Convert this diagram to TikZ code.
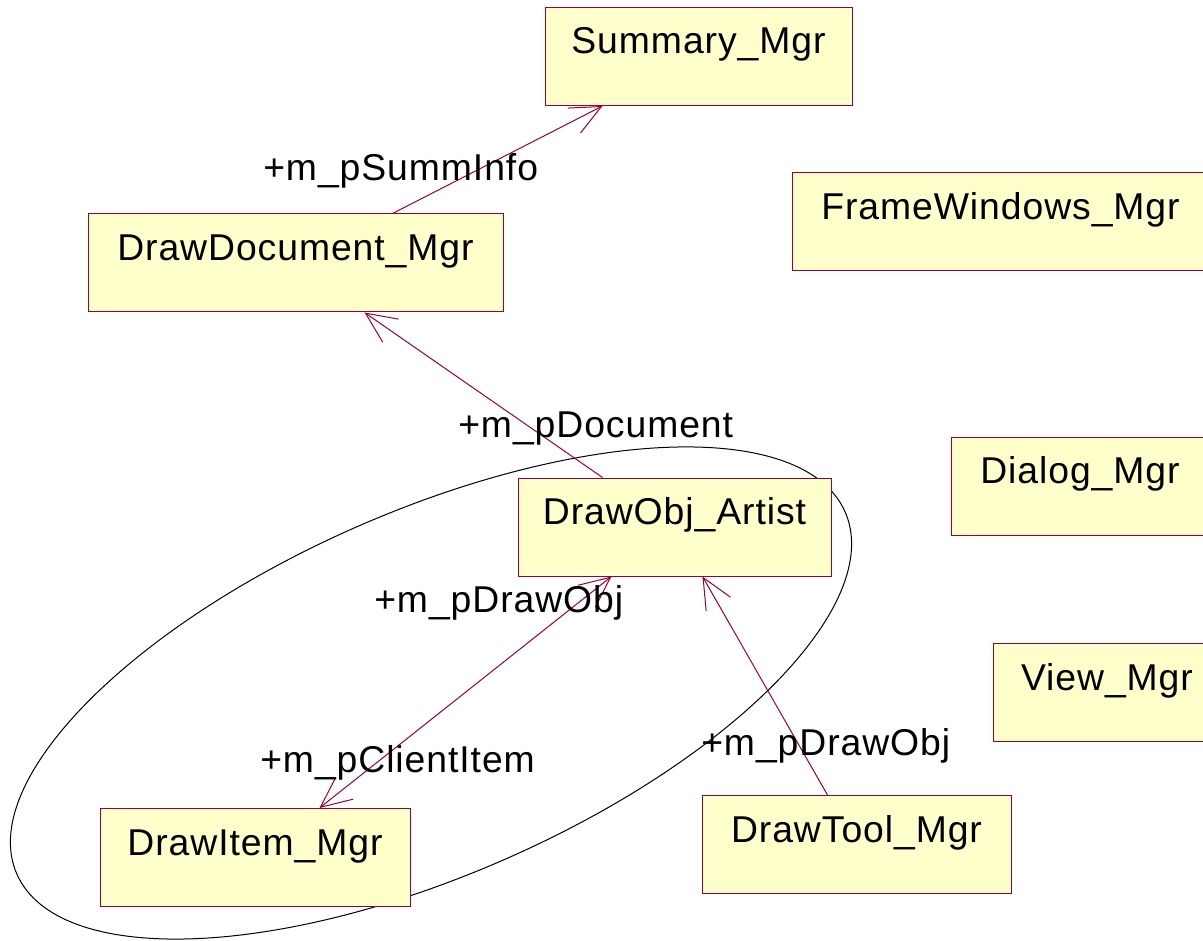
\documentclass[tikz,border=0pt]{standalone}
\usepackage{fontspec}
\setmainfont[LetterSpace=2.5]{Liberation Sans}
\usetikzlibrary{arrows.meta,calc}
\definecolor{umlline}{HTML}{990033}
\definecolor{umlfill}{HTML}{FFFFCC}
\tikzset{
  classbox/.style={rectangle, draw=umlline, fill=umlfill, line width=0.75pt,
    inner sep=0pt, text height=20.25pt, text depth=24pt,
    minimum height=73.5pt, font=\fontsize{28}{34}\selectfont},
  assoc/.style={draw=umlline, line width=0.75pt},
  navtip/.style={-{Straight Barb[length=23pt,width=21pt]}},
  bothtips/.style={{Straight Barb[length=23pt,width=21pt]}-{Straight Barb[length=23pt,width=21pt]}},
  rolelabel/.style={inner sep=0pt, anchor=base west, font=\fontsize{28}{34}\selectfont},
  group/.style={draw=black, line width=0.75pt},
}
\begin{document}
\begin{tikzpicture}[x=0.75pt,y=0.75pt]
\useasboundingbox (0,0) rectangle (1203,-941);
\clip (0,0) rectangle (1203,-941);

% package boundary around the drawing-object classes
\draw[group, rotate around={23.6:(431,-693)}] (431,-693) ellipse [x radius=452, y radius=182];

% classes
\node[classbox, minimum width=230.25pt] (summ)   at (698.5,-56.5) {Summary\_Mgr};
\node[classbox, minimum width=311.25pt] (ddoc)   at (295.5,-263)  {DrawDocument\_Mgr};
\node[classbox, minimum width=312.75pt] (frame)  at (1000.5,-222) {FrameWindows\_Mgr};
\node[classbox, minimum width=193.5pt]  (dialog) at (1080,-486)   {Dialog\_Mgr};
\node[classbox, minimum width=171pt]    (view)   at (1107,-692.5) {View\_Mgr};
\node[classbox, minimum width=234.75pt] (artist) at (674.5,-527)  {DrawObj\_Artist};
\node[classbox, minimum width=232.5pt]  (item)   at (255,-857.5)  {DrawItem\_Mgr};
\node[classbox, minimum width=231.75pt] (tool)   at (856.5,-844.5){DrawTool\_Mgr};

% associations
\draw[assoc, navtip] ($(ddoc.north west)+(305,0)$) -- ($(summ.south west)+(58,0)$);
\draw[assoc, navtip] ($(artist.north west)+(85,0)$) -- ($(ddoc.south west)+(277,0)$);
\draw[assoc, bothtips] ($(item.north west)+(220,0)$) -- ($(artist.south west)+(94,0)$);
\draw[assoc, navtip] ($(tool.north west)+(126,0)$) -- ($(artist.south west)+(185,0)$);

% role names
\node[rolelabel] (rsumm)   at (263,-181) {+m\_pSummInfo};
\node[rolelabel] (rdoc)    at (458,-437) {+m\_pDocument};
\node[rolelabel] (rdobj)   at (374,-612) {+m\_pDrawObj};
\node[rolelabel] (rclient) at (260,-772) {+m\_pClientItem};
\node[rolelabel] (rtool)   at (701,-755) {+m\_pDrawObj};
\end{tikzpicture}
\end{document}
